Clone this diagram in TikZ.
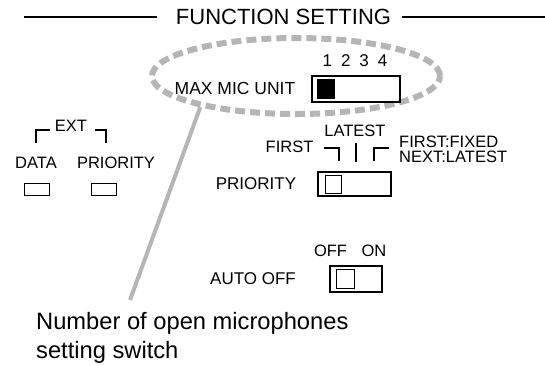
\documentclass[tikz,border=0pt]{standalone}
\usepackage{fontspec}
\setmainfont{Liberation Sans}
\usepackage{xcolor}
\definecolor{hl}{HTML}{B5B5B5}
\usepackage{tikz}
\usetikzlibrary{positioning,shapes.geometric}
\tikzset{
  lbl/.style={inner sep=0pt,font=\fontsize{16.5}{18}\selectfont},
  swbox/.style={draw,line width=1.2pt,inner sep=0pt},
  knob/.style={draw,line width=1pt,inner sep=0pt,minimum width=17pt,minimum height=19pt},
  tick/.style={line width=1.6pt},
  zone/.style={ellipse,draw=hl,line width=6pt,dash pattern=on 10pt off 5pt,inner sep=0pt},
  lead/.style={draw=hl,line width=4pt},
  rule/.style={line width=1.8pt},
}
\begin{document}
\begin{tikzpicture}[x=1pt,y=-1pt]
\useasboundingbox (0,0) rectangle (545,365);

% heading
\node[inner sep=0pt,font=\fontsize{22}{24}\selectfont] (title) at (283.5,17) {FUNCTION SETTING};
\coordinate (ruleL) at (24,17);
\coordinate (ruleR) at (545,17);
\draw[rule] (ruleL) -- ([xshift=-19pt]title.west);
\draw[rule] ([xshift=11pt]title.east) -- (ruleR);

% max mic unit
\node[zone,minimum width=288pt,minimum height=76pt] (zone) at (296,76) {};
\node[lbl,font=\fontsize{17.5}{19}\selectfont] (maxlab) at (235,88) {MAX MIC UNIT};
\node[swbox,minimum width=88pt,minimum height=26pt] (maxsw) at (356,89) {};
\node[knob,fill=black,right=6pt of maxsw.west] (maxknob) {};
\node[lbl,font=\fontsize{17}{19}\selectfont] (maxpos) at (355,61) {1\hspace{9pt}2\hspace{9pt}3\hspace{9pt}4};

% ext
\node[lbl] (extlab) at (71,126) {EXT};
\draw[tick] (50,130) -| (36,143);
\draw[tick] (95,130) -| (106,143);
\node[lbl] (datalab) at (36,163) {DATA};
\node[lbl] (extprilab) at (116,163) {PRIORITY};
\node[swbox,line width=1pt,minimum width=25pt,minimum height=12pt] (databox) at (37,189) {};
\node[swbox,line width=1pt,minimum width=25pt,minimum height=12pt] (pribox) at (104,189) {};

% priority
\node[lbl] (latestlab) at (355,131) {LATEST};
\node[lbl] (firstlab) at (289.5,147) {FIRST};
\node[lbl,align=left,anchor=west,font=\fontsize{16.5}{15.5}\selectfont] (modelab) at (399,149.25) {FIRST:FIXED\\NEXT:LATEST};
\draw[tick] (324,148) -| (339,161);
\draw[line width=2.6pt] (356,143) -- (356,162);
\draw[tick] (374,161) |- (389,148);
\node[lbl,font=\fontsize{17}{19}\selectfont] (prilab) at (256,184) {PRIORITY};
\node[swbox,minimum width=73pt,minimum height=24pt] (prisw) at (354.5,184) {};
\node[knob,minimum width=16pt,minimum height=18pt,right=8pt of prisw.west] (priknob) {};

% auto off
\node[lbl] (offlab) at (330.5,251) {OFF};
\node[lbl] (onlab) at (374,251) {ON};
\node[lbl,font=\fontsize{17}{19}\selectfont] (autolab) at (253,279) {AUTO OFF};
\node[swbox,minimum width=52pt,minimum height=26pt] (autosw) at (356,279) {};
\node[knob,minimum width=18pt,right=7pt of autosw.west] (autoknob) {};

% callout
\node[inner sep=0pt,align=left,anchor=north west,font=\fontsize{23.7}{29.5}\selectfont] (note) at (36,312)
  {Number of open microphones\\setting switch};
\coordinate (leadend) at (130,300);
\draw[lead] (zone.198) -- (leadend);
\end{tikzpicture}
\end{document}
